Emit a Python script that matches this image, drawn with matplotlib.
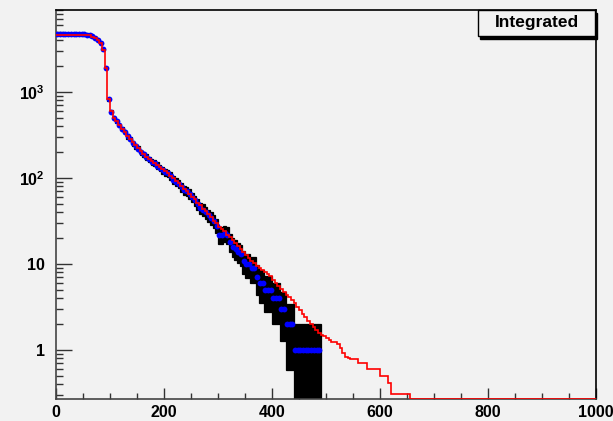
import numpy as np
import matplotlib
matplotlib.use("Agg")
import matplotlib.pyplot as plt

plt.rcParams['font.family'] = ['Liberation Sans', 'DejaVu Sans']
plt.rcParams['mathtext.default'] = 'regular'

# data histogram: bin width 5, lower edges 0..495
bin_width = 5
counts = [4700, 4690, 4720, 4680, 4710, 4700, 4690, 4720, 4700, 4680, 4700, 4650,
          4560, 4450, 4250, 4050, 3750, 3150, 1900, 820, 590, 500, 455, 410,
          375, 340, 305, 285, 255, 235, 220, 200, 188, 176, 165, 155,
          150, 140, 132, 124, 118, 114, 106, 96, 90, 86, 78, 72,
          70, 66, 60, 55, 50, 45, 43, 40, 37, 34, 32, 28,
          22, 22, 23, 22, 18, 16, 15, 14, 13, 11, 10, 10,
          9, 9, 7, 6, 6, 5, 5, 5, 4, 4, 4, 3,
          3, 2, 2, 2, 1, 1, 1, 1, 1, 1, 1, 1,
          1, 1, 0, 0]

# integrated curve, same binning, out to 1000
integrated = [4650] * 12 + [
    4550, 4420, 4230, 4020, 3720, 3100, 1900, 820, 600, 505, 455, 415,
    375, 342, 310, 288, 262, 240, 222, 205, 190, 178, 168, 158,
    150, 142, 134, 127, 120, 114, 107, 100, 93, 87, 80, 75,
    70, 66, 61, 57, 52, 48, 44, 41, 38, 35, 32, 30,
    27, 25.5, 24, 22, 20.5, 19, 17.5, 16.2, 15, 13.8, 12.7, 11.7,
    11, 10.2, 9.5, 9, 8.5, 8, 7.7, 7.2, 6.6, 6.1, 5.6, 5.2,
    4.8, 4.4, 4.1, 3.8, 3.5, 3.2, 2.9, 2.6, 2.4, 2.2, 2.0, 1.85,
    1.7, 1.6, 1.5, 1.45,
    1.4, 1.3, 1.25, 1.25, 1.17, 1.05, 0.92, 0.84, 0.82, 0.79, 0.79, 0.79,
    0.70, 0.70, 0.70, 0.61, 0.61, 0.61, 0.61, 0.61, 0.50, 0.50, 0.50, 0.41,
    0.31, 0.31, 0.31, 0.31, 0.31, 0.31, 0.31]
integrated = integrated + [0] * (200 - len(integrated))

legend_text = "Integrated"
ymin, ymax = 0.27, 9000
bg = '#f2f2f2'

counts = np.array(counts, dtype=float)
lo = np.arange(len(counts)) * bin_width
err = np.sqrt(counts)
edges = np.arange(len(integrated) + 1) * bin_width

fig = plt.figure(figsize=(6.13, 4.21), dpi=100, facecolor=bg)
ax = fig.add_axes([56 / 613, 1 - 399 / 421, 540 / 613, 389 / 421], facecolor=bg)
ax.set_yscale('log')

# error boxes
nz = counts > 0
ax.bar(lo[nz], 2 * err[nz], bottom=np.clip(counts[nz] - err[nz], 1e-3, None),
       width=bin_width, align='edge', color='black', edgecolor='black',
       linewidth=0.9, zorder=2)
# data markers
ax.hlines(counts[nz], lo[nz], lo[nz] + bin_width, color='blue', lw=2.2, zorder=3)
ax.plot(lo[nz] + bin_width / 2, counts[nz], 'o', color='blue', ms=4.2, mew=0, zorder=3)
# integrated curve
ax.stairs(np.clip(integrated, ymin * 1.01, None), edges, color='red', lw=1.2,
          baseline=None, zorder=4)

ax.set_xlim(0, 1000)
ax.set_ylim(ymin, ymax)

ax.set_xticks([0, 200, 400, 600, 800, 1000])
ax.set_xticks(np.arange(0, 1001, 50), minor=True)
ax.set_yticks([1, 10, 100, 1000])
ax.set_yticklabels(['1', '10', '$10^{2}$', '$10^{3}$'])
ax.yaxis.set_minor_locator(matplotlib.ticker.LogLocator(subs=np.arange(2, 10)))
ax.yaxis.set_minor_formatter(matplotlib.ticker.NullFormatter())

ax.tick_params(axis='both', which='both', direction='in', colors='#333333',
               labelcolor='black', labelsize=11.5)
ax.tick_params(axis='y', which='major', length=11.5, width=1, pad=8)
ax.tick_params(axis='y', which='minor', length=5, width=1)
ax.tick_params(axis='x', which='major', length=8, width=1, pad=4)
ax.tick_params(axis='x', which='minor', length=4, width=1)
for lab in ax.get_xticklabels() + ax.get_yticklabels():
    lab.set_fontweight('bold')

for s in ['left', 'bottom']:
    ax.spines[s].set_color('#444444')
    ax.spines[s].set_linewidth(1.2)
for s in ['top', 'right']:
    ax.spines[s].set_color('black')
    ax.spines[s].set_linewidth(1.2)

# legend box with shadow
lx0, ly0, lw_, lh_ = 478 / 613, 1 - 36 / 421, 117 / 613, 26 / 421
fig.patches.append(plt.Rectangle((lx0 + 0.004, ly0 - 0.006), lw_, lh_, transform=fig.transFigure,
                                 facecolor='black', edgecolor='black', zorder=5))
fig.patches.append(plt.Rectangle((lx0, ly0), lw_, lh_, transform=fig.transFigure,
                                 facecolor=bg, edgecolor='black', lw=1, zorder=6))
fig.text(lx0 + lw_ / 2, ly0 + lh_ / 2, legend_text, ha='center', va='center',
         fontsize=12.5, fontweight='bold', zorder=7)

fig.savefig('out.png', dpi=100, facecolor=bg)
